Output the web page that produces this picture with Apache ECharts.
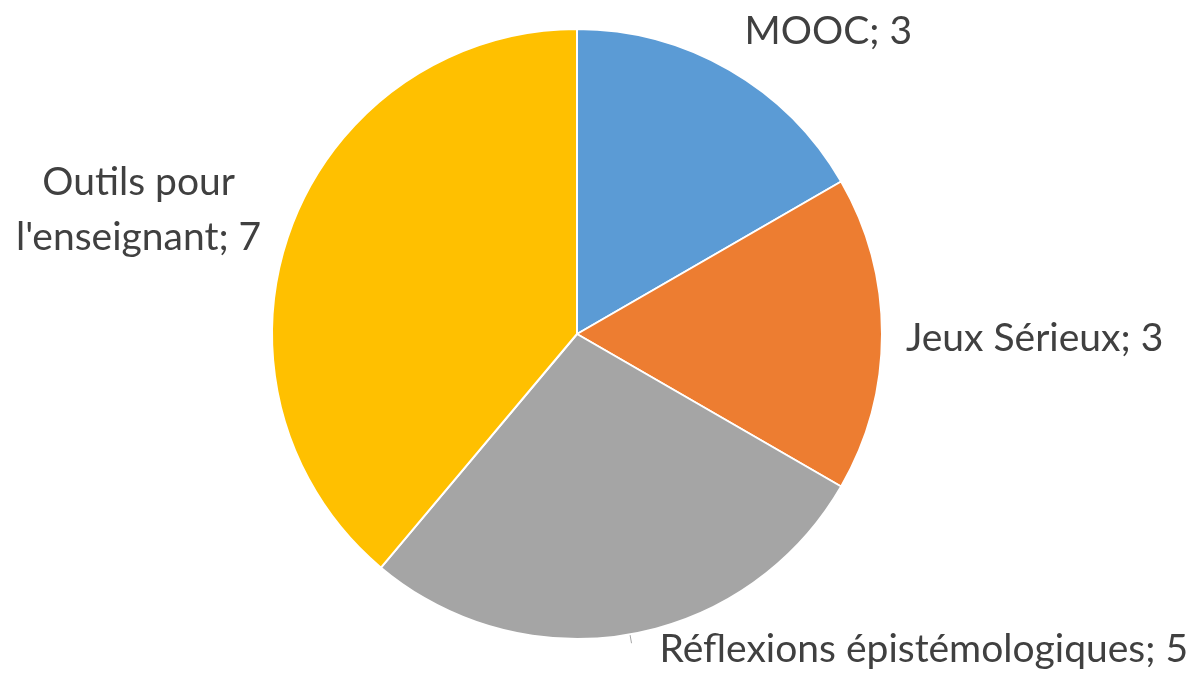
<!DOCTYPE html>
<html><head><meta charset="utf-8">
<script src="https://cdn.jsdelivr.net/npm/echarts@6/dist/echarts.min.js"></script>
<style>html,body{margin:0;padding:0;background:#fff}#c{width:1204px;height:673px}</style>
</head><body><div id="c"></div>
<script>
const categories = ["MOOC", "Jeux Sérieux", "Réflexions épistémologiques", "Outils pour\nl'enseignant"];
const values = [3, 3, 5, 7];
const colors = ["#5B9BD5", "#ED7D31", "#A5A5A5", "#FFC000"];
const labelShift = [
  {dx: 0, dy: -21},
  {dx: -1, dy: 4},
  {dx: 23, dy: 6},
  {dx: -128, dy: -13, align: 'center'}
];

const chart = echarts.init(document.getElementById('c'));
chart.setOption({
  animation: false,
  series: [{
    type: 'pie',
    center: [577, 334],
    radius: [0, 305],
    startAngle: 90,
    clockwise: true,
    data: categories.map((n, i) => ({
      name: n, value: values[i], itemStyle: {color: colors[i]},
      labelLine: i === 2 ? {show: true, length: 9, length2: 0, lineStyle: {color: '#a6a6a6', width: 1}} : {show: false}
    })),
    itemStyle: {borderColor: '#fff', borderWidth: 2},
    label: {
      show: true, position: 'outside',
      formatter: p => p.name + '; ' + p.value,
      fontFamily: 'Lato', fontSize: 39, color: '#404040', lineHeight: 55
    },
    labelLine: {show: false, length: 20, length2: 0},
    labelLayout: p => labelShift[p.dataIndex]
  }]
});
</script></body></html>
